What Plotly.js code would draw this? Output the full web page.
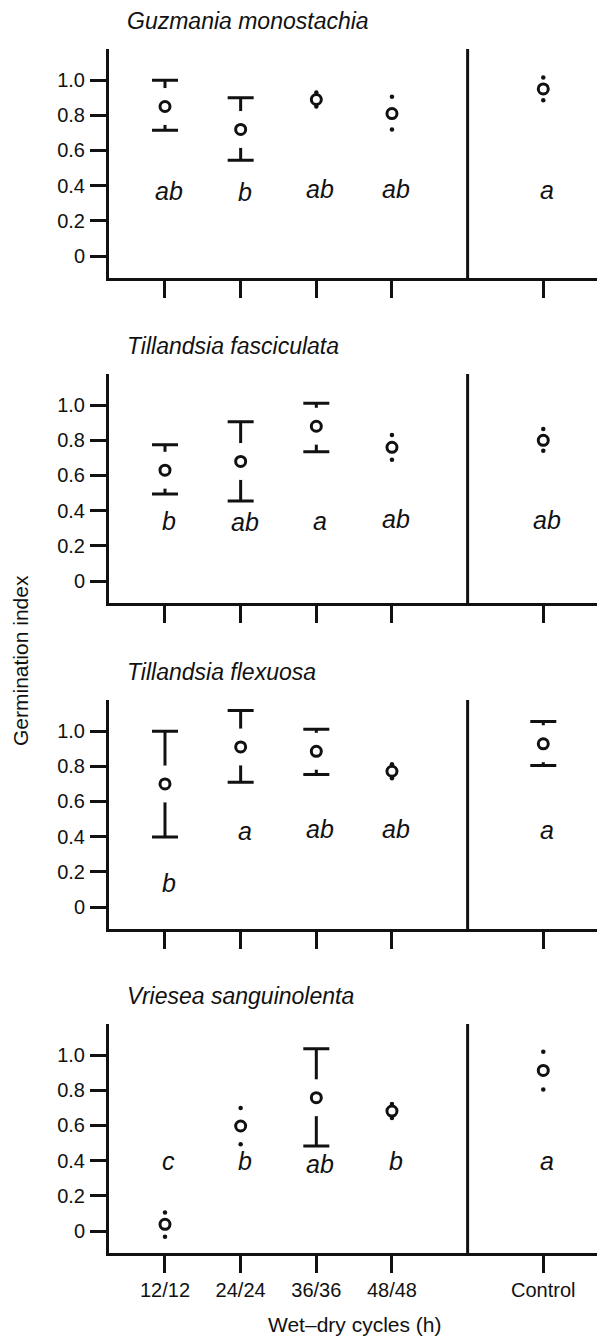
<!DOCTYPE html>
<html>
<head>
<meta charset="utf-8">
<script src="https://cdn.plot.ly/plotly-3.0.1.min.js"></script>
<style>html,body{margin:0;padding:0;background:#fff;}#chart{width:597px;height:1337px;}</style>
</head>
<body>
<div id="chart"></div>
<script>
// ---- data ----
const catX = [1, 2, 3, 4, 6];
const catLabels = ['12/12', '24/24', '36/36', '48/48', 'Control'];
const speciesNames = ['Guzmania monostachia', 'Tillandsia fasciculata', 'Tillandsia flexuosa', 'Vriesea sanguinolenta'];

const guzMean  = [0.85, 0.72, 0.89, 0.81, 0.95];
const guzUpper = [1.00, 0.90, 0.93, 0.905, 1.015];
const guzLower = [0.715, 0.545, 0.85, 0.72, 0.885];
const guzLetters = ['ab', 'b', 'ab', 'ab', 'a'];
const guzLetterY = [0.37, 0.365, 0.38, 0.38, 0.375];

const fasMean  = [0.63, 0.68, 0.88, 0.76, 0.80];
const fasUpper = [0.775, 0.905, 1.01, 0.83, 0.865];
const fasLower = [0.495, 0.455, 0.735, 0.69, 0.74];
const fasLetters = ['b', 'ab', 'a', 'ab', 'ab'];
const fasLetterY = [0.34, 0.335, 0.34, 0.35, 0.345];

const flxMean  = [0.70, 0.91, 0.885, 0.772, 0.928];
const flxUpper = [1.00, 1.118, 1.01, 0.812, 1.055];
const flxLower = [0.398, 0.71, 0.754, 0.732, 0.805];
const flxLetters = ['b', 'a', 'ab', 'ab', 'a'];
const flxLetterY = [0.135, 0.435, 0.445, 0.445, 0.44];

const vriMean  = [0.038, 0.597, 0.758, 0.682, 0.913];
const vriUpper = [0.105, 0.70, 1.036, 0.722, 1.019];
const vriLower = [-0.032, 0.493, 0.483, 0.642, 0.805];
const vriLetters = ['c', 'b', 'ab', 'b', 'a'];
const vriLetterY = [0.40, 0.40, 0.38, 0.40, 0.40];

const yTickVals = [0, 0.2, 0.4, 0.6, 0.8, 1.0];
const yTickText = ['0', '0.2', '0.4', '0.6', '0.8', '1.0'];

// ---- build ----
const panels = [
  {mean: guzMean, up: guzUpper, lo: guzLower, letters: guzLetters, ly: guzLetterY},
  {mean: fasMean, up: fasUpper, lo: fasLower, letters: fasLetters, ly: fasLetterY},
  {mean: flxMean, up: flxUpper, lo: flxLower, letters: flxLetters, ly: flxLetterY},
  {mean: vriMean, up: vriUpper, lo: vriLower, letters: vriLetters, ly: vriLetterY}
];

const W = 597, H = 1337, ML = 109;
const tops = [49, 374, 700, 1024];
const PH = 229;
const GAP = 0.115;            // intervals shorter than this are drawn as end dots
const INK = '#111111';
const FONT = 'Liberation Sans, Arial, sans-serif';

const traces = [];
const layout = {
  width: W, height: H,
  margin: {l: ML, r: 0, t: 0, b: 0, pad: 0},
  paper_bgcolor: '#ffffff', plot_bgcolor: '#ffffff',
  showlegend: false,
  font: {family: FONT, color: INK, size: 20},
  annotations: [], shapes: []
};

panels.forEach((p, i) => {
  const sfx = i === 0 ? '' : String(i + 1);
  const xa = 'x' + sfx, ya = 'y' + sfx;
  const top = tops[i];
  const dom = [(H - top - PH) / H, (H - top) / H];

  layout['xaxis' + sfx] = {
    domain: [0, 1], anchor: ya, range: [0.26, 6.71],
    showgrid: false, zeroline: false, showline: true, linecolor: INK, linewidth: 3,
    ticks: 'outside', ticklen: 17, tickwidth: 3, tickcolor: INK,
    tickvals: catX, ticktext: i === 3 ? catLabels : catLabels.map(() => ''),
    tickfont: {size: 20, color: INK, family: FONT}, fixedrange: true
  };
  layout['yaxis' + sfx] = {
    domain: dom, anchor: xa, range: [-0.125, 1.177],
    showgrid: false, zeroline: false, showline: true, linecolor: INK, linewidth: 3,
    ticks: 'outside', ticklen: 16, tickwidth: 3, tickcolor: INK,
    tickvals: yTickVals, ticktext: yTickText, ticklabelstandoff: 1,
    tickfont: {size: 20, color: INK, family: FONT}, fixedrange: true
  };

  // error bars (only where the bar reaches beyond the gap round the point)
  const plus = p.up.map((u, k) => (u - p.mean[k] > GAP ? u - p.mean[k] : 0));
  const minus = p.lo.map((l, k) => (p.mean[k] - l > GAP ? p.mean[k] - l : 0));
  traces.push({
    type: 'scatter', mode: 'markers', x: catX, y: p.mean, xaxis: xa, yaxis: ya,
    marker: {size: 2, color: 'rgba(0,0,0,0)'},
    error_y: {type: 'data', symmetric: false, array: plus, arrayminus: minus,
              width: 13, thickness: 3, color: INK},
    hoverinfo: 'skip'
  });
  // white gap around each point
  traces.push({
    type: 'scatter', mode: 'markers', x: catX, y: p.mean, xaxis: xa, yaxis: ya,
    marker: {size: 37, color: '#ffffff', line: {width: 0}}, hoverinfo: 'skip'
  });
  // dots for short intervals
  const dx = [], dy = [];
  p.mean.forEach((m, k) => {
    if (p.up[k] - m <= GAP) { dx.push(catX[k]); dy.push(p.up[k]); }
    if (m - p.lo[k] <= GAP) { dx.push(catX[k]); dy.push(p.lo[k]); }
  });
  traces.push({
    type: 'scatter', mode: 'markers', x: dx, y: dy, xaxis: xa, yaxis: ya,
    marker: {size: 4.5, color: INK, line: {width: 0}}, hoverinfo: 'skip'
  });
  // open circles
  traces.push({
    type: 'scatter', mode: 'markers', x: catX, y: p.mean, xaxis: xa, yaxis: ya,
    marker: {symbol: 'circle', size: 10, color: '#ffffff', line: {color: INK, width: 3}},
    hoverinfo: 'skip'
  });

  // divider between treatments and control
  layout.shapes.push({
    type: 'line', xref: xa, yref: ya + ' domain', x0: 5, x1: 5, y0: 0, y1: 1,
    line: {color: INK, width: 3}
  });

  // significance letters
  p.letters.forEach((t, k) => {
    layout.annotations.push({
      xref: xa, yref: ya, x: catX[k], y: p.ly[k], text: '<i>' + t + '</i>',
      showarrow: false, xanchor: 'center', yanchor: 'middle', xshift: 4,
      font: {size: 25, color: INK, family: FONT}
    });
  });

  // species title
  layout.annotations.push({
    xref: 'paper', yref: 'paper', x: (125 - ML) / (W - ML), y: (H - (top - 28)) / H,
    xanchor: 'left', yanchor: 'middle', showarrow: false,
    text: '<i>' + speciesNames[i] + '</i>', font: {size: 23, color: INK, family: FONT}
  });
});

// axis titles
layout.annotations.push({
  xref: 'paper', yref: 'paper', x: (20 - ML) / (W - ML), y: (H - 661) / H,
  xanchor: 'center', yanchor: 'middle', textangle: -90, showarrow: false,
  text: 'Germination index', font: {size: 21, color: INK, family: FONT}
});
layout.annotations.push({
  xref: 'paper', yref: 'paper', x: (355 - ML) / (W - ML), y: (H - 1324) / H,
  xanchor: 'center', yanchor: 'middle', showarrow: false,
  text: 'Wet\u2013dry cycles (h)', font: {size: 21, color: INK, family: FONT}
});

Plotly.newPlot('chart', traces, layout, {staticPlot: true, displayModeBar: false});
</script>
</body>
</html>
